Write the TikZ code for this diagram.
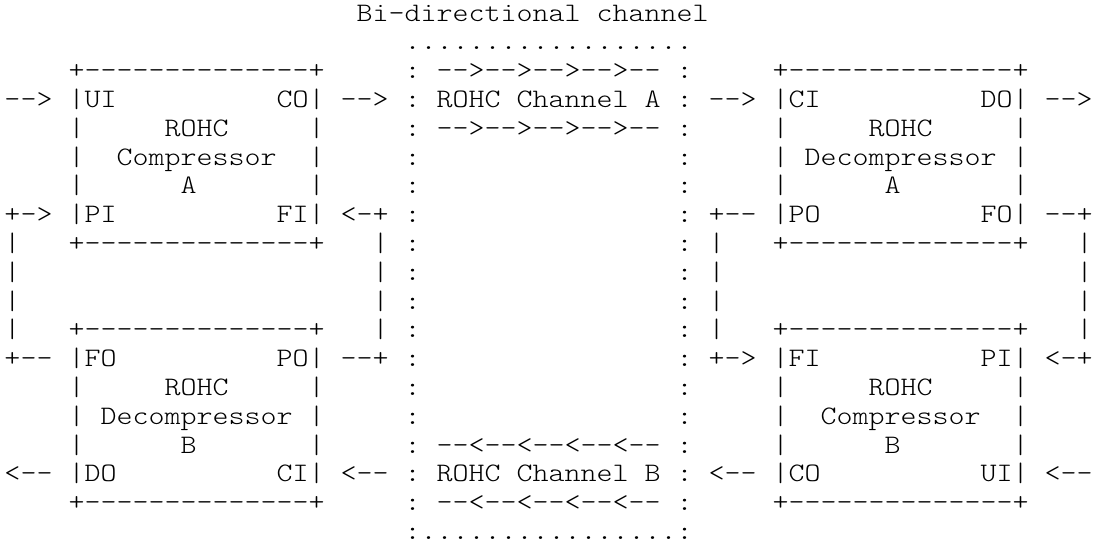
\documentclass[tikz,border=0pt]{standalone}
\usepackage{fontspec}
\usepackage{graphicx}
\setmonofont{lmmonolt10-regular.otf}
\usetikzlibrary{positioning}
\tikzset{
  asc/.style={anchor=base west, inner sep=0pt, outer sep=0pt, text=black,
    font=\ttfamily\fontsize{26.67}{28.8}\selectfont}
}
% \Row{name}{first column}{row number}{text}
\newcommand{\Row}[4]{\node[asc] (#1) at ({4.5+16*#2},{-(21+28.8*(#3-1))}) {\scalebox{1.142857}[1]{#4}};}
\begin{document}
\begin{tikzpicture}[x=1pt,y=1pt]
\fill[white] (0,0) rectangle (1098,-554);
\useasboundingbox (0,0) rectangle (1098,-554);
\Row{title}{22}{1}{Bi-directional~channel}
\Row{chtop}{25}{2}{..................}
\Row{r3}{4}{3}{+--------------+~~~~~:~-->-->-->-->--~:~~~~~+--------------+}
\Row{r4}{0}{4}{-->~|UI~~~~~~~~~~CO|~-->~:~ROHC~Channel~A~:~-->~|CI~~~~~~~~~~DO|~-->}
\Row{r5}{4}{5}{|~~~~~ROHC~~~~~|~~~~~:~-->-->-->-->--~:~~~~~|~~~~~ROHC~~~~~|}
\Row{r6}{4}{6}{|~~Compressor~~|~~~~~:~~~~~~~~~~~~~~~~:~~~~~|~Decompressor~|}
\Row{r7}{4}{7}{|~~~~~~A~~~~~~~|~~~~~:~~~~~~~~~~~~~~~~:~~~~~|~~~~~~A~~~~~~~|}
\Row{r8}{0}{8}{+->~|PI~~~~~~~~~~FI|~<-+~:~~~~~~~~~~~~~~~~:~+--~|PO~~~~~~~~~~FO|~--+}
\Row{r9}{0}{9}{|~~~+--------------+~~~|~:~~~~~~~~~~~~~~~~:~|~~~+--------------+~~~|}
\Row{r10}{0}{10}{|~~~~~~~~~~~~~~~~~~~~~~|~:~~~~~~~~~~~~~~~~:~|~~~~~~~~~~~~~~~~~~~~~~|}
\Row{r11}{0}{11}{|~~~~~~~~~~~~~~~~~~~~~~|~:~~~~~~~~~~~~~~~~:~|~~~~~~~~~~~~~~~~~~~~~~|}
\Row{r12}{0}{12}{|~~~+--------------+~~~|~:~~~~~~~~~~~~~~~~:~|~~~+--------------+~~~|}
\Row{r13}{0}{13}{+--~|FO~~~~~~~~~~PO|~--+~:~~~~~~~~~~~~~~~~:~+->~|FI~~~~~~~~~~PI|~<-+}
\Row{r14}{4}{14}{|~~~~~ROHC~~~~~|~~~~~:~~~~~~~~~~~~~~~~:~~~~~|~~~~~ROHC~~~~~|}
\Row{r15}{4}{15}{|~Decompressor~|~~~~~:~~~~~~~~~~~~~~~~:~~~~~|~~Compressor~~|}
\Row{r16}{4}{16}{|~~~~~~B~~~~~~~|~~~~~:~--<--<--<--<--~:~~~~~|~~~~~~B~~~~~~~|}
\Row{r17}{0}{17}{<--~|DO~~~~~~~~~~CI|~<--~:~ROHC~Channel~B~:~<--~|CO~~~~~~~~~~UI|~<--}
\Row{r18}{4}{18}{+--------------+~~~~~:~--<--<--<--<--~:~~~~~+--------------+}
\Row{chbot}{25}{19}{:................:}
\end{tikzpicture}
\end{document}
